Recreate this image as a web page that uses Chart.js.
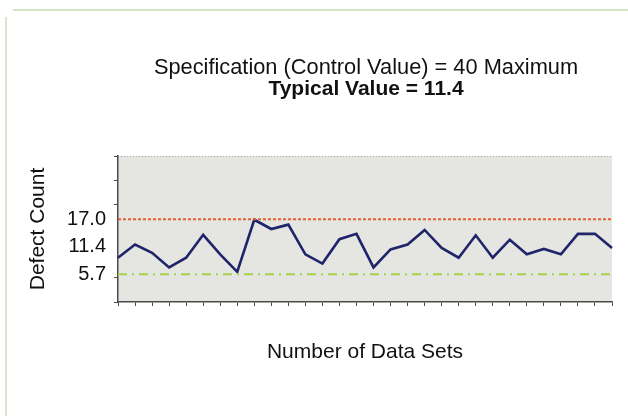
<!DOCTYPE html>
<html>
<head>
<meta charset="utf-8">
<script src="https://cdn.jsdelivr.net/npm/chart.js@4"></script>
<style>
  html, body { margin: 0; padding: 0; background: #fff; }
  #wrap { position: relative; width: 628px; height: 416px; overflow: hidden; }
  .frameTop { position: absolute; left: 13px; top: 9px; width: 615px; height: 2px; background: #d3e6c2; }
  .frameLeft { position: absolute; left: 5px; top: 17px; width: 2px; height: 399px; background: #d9e6cf; }
  canvas { position: absolute; left: 0; top: 0; }
</style>
</head>
<body>
<div id="wrap">
  <div class="frameTop"></div>
  <div class="frameLeft"></div>
  <canvas id="spcChart" width="628" height="416"></canvas>
</div>
<script>
// Data sets 1..30
const dataSets = ["1","2","3","4","5","6","7","8","9","10","11","12","13","14","15",
  "16","17","18","19","20","21","22","23","24","25","26","27","28","29","30"];

// Defect count per data set
const defectCounts = [9.1, 11.8, 10.1, 7.1, 9.1, 13.8, 9.8, 6.2, 16.9, 15.0,
  15.9, 9.8, 7.9, 12.9, 14.0, 7.1, 10.8, 11.8, 14.8, 11.1,
  9.1, 13.7, 9.1, 12.8, 9.8, 10.9, 9.8, 14.0, 14.0, 11.1];

// Reference levels
const upperLevel = 17.0;
const lowerLevel = 5.7;
const typicalLevel = 11.4;

// Y axis tick marks and labelled values
const yTickMarks = [0, 5, 20, 25, 30];
const yLabelled = [lowerLevel, typicalLevel, upperLevel];

const titleLines = ["Specification (Control Value) = 40 Maximum", "Typical Value = 11.4"];

const FONT = "'Liberation Sans', Arial, Helvetica, sans-serif";

// plot background + titles
const decorPlugin = {
  id: "decor",
  beforeDraw(chart) {
    const { ctx, chartArea: a } = chart;
    ctx.save();
    ctx.fillStyle = "#e5e5e1";
    ctx.fillRect(a.left, a.top, a.right - a.left, a.bottom - a.top);
    ctx.strokeStyle = "#a9a9a6";
    ctx.lineWidth = 1;
    ctx.setLineDash([1, 2]);
    ctx.beginPath();
    ctx.moveTo(a.left, a.top + 0.5);
    ctx.lineTo(a.right, a.top + 0.5);
    ctx.stroke();
    ctx.restore();
  },
  afterDraw(chart) {
    const { ctx, chartArea: a } = chart;
    const cx = (a.left + a.right) / 2 + 1;
    ctx.save();
    ctx.fillStyle = "#111";
    ctx.textAlign = "center";
    ctx.textBaseline = "middle";
    ctx.font = "21.8px " + FONT;
    ctx.fillText(titleLines[0], cx, 68);
    ctx.font = "bold 21px " + FONT;
    ctx.fillText(titleLines[1], cx, 89);
    ctx.restore();
  }
};

const ctx = document.getElementById("spcChart").getContext("2d");

new Chart(ctx, {
  type: "line",
  data: {
    labels: dataSets,
    datasets: [
      {
        label: "Upper",
        data: dataSets.map(() => upperLevel),
        borderColor: "#e4602e",
        borderWidth: 2.2,
        borderDash: [3, 2],
        pointRadius: 0
      },
      {
        label: "Lower",
        data: dataSets.map(() => lowerLevel),
        borderColor: "#a6d34c",
        borderWidth: 2.2,
        borderDash: [9, 5, 2, 5],
        pointRadius: 0
      },
      {
        label: "Defect Count",
        data: defectCounts,
        borderColor: "#1f246b",
        borderWidth: 2.6,
        pointRadius: 0,
        tension: 0
      }
    ]
  },
  options: {
    responsive: false,
    animation: false,
    layout: { padding: { top: 156, right: 16, bottom: 0, left: 0 } },
    plugins: {
      legend: { display: false },
      tooltip: { enabled: false }
    },
    scales: {
      x: {
        offset: false,
        afterFit: (s) => { s.height = 114; },
        border: { color: "#4a4a4a", width: 1.5 },
        grid: { drawOnChartArea: false, tickLength: 4, color: "#4a4a4a" },
        ticks: { display: false, autoSkip: false },
        title: {
          display: true,
          text: "Number of Data Sets",
          color: "#111",
          font: { family: FONT, size: 21 },
          padding: { top: 0, bottom: 51 }
        }
      },
      y: {
        min: 0,
        max: 30,
        afterFit: (s) => { s.width = 118; },
        afterBuildTicks: (s) => {
          s.ticks = yTickMarks.concat(yLabelled).sort((a, b) => a - b).map(v => ({ value: v }));
        },
        border: { color: "#4a4a4a", width: 1.5 },
        grid: {
          drawOnChartArea: false,
          tickLength: 4,
          color: "#4a4a4a",
          tickColor: (c) => yLabelled.includes(c.tick.value) ? "rgba(0,0,0,0)" : "#4a4a4a"
        },
        ticks: {
          autoSkip: false,
          padding: 8,
          color: "#111",
          font: { family: FONT, size: 20 },
          callback: (v) => yLabelled.includes(v) ? v.toFixed(1) : ""
        },
        title: {
          display: true,
          text: "Defect Count",
          color: "#111",
          font: { family: FONT, size: 21 },
          padding: { top: 26, bottom: 0 }
        }
      }
    }
  },
  plugins: [decorPlugin]
});
</script>
</body>
</html>
